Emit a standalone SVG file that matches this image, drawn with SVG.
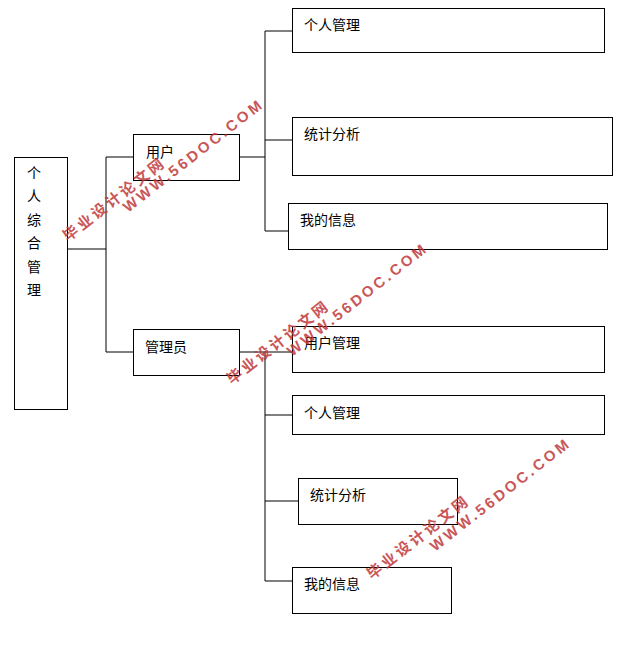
<svg xmlns="http://www.w3.org/2000/svg" width="629" height="650" viewBox="0 0 629 650">
<style>
.b{fill:#fff;stroke:#000;stroke-width:1}
.t{font-family:"Noto Sans CJK SC","Noto Sans",sans-serif;font-size:14px;fill:#000}
.c{stroke:#000;stroke-width:1;fill:none}
.w{font-family:"Liberation Sans","Noto Sans CJK SC",sans-serif;font-size:15px;font-weight:bold;fill:#c0393b;opacity:0.85;letter-spacing:3px}
</style>
<rect width="629" height="650" fill="#fff"/>
<g id="connectors">
<path class="c" d="M67,249H106M106,157V352M106,157H133M106,352H133"/>
<path class="c" d="M239,157H265M265,31V231M265,31H292M265,140H292M265,231H288"/>
<path class="c" d="M239,352H265M265,352V581M265,352H292M265,415H292M265,501H298M265,581H292"/>
</g>
<g id="root"><rect class="b" x="14.5" y="157.5" width="53" height="252"/>
<text class="t" x="27" y="178">个</text><text class="t" x="27" y="201">人</text><text class="t" x="27" y="225">综</text><text class="t" x="27" y="248">合</text><text class="t" x="27" y="272">管</text><text class="t" x="27" y="295">理</text></g>
<g id="user"><rect class="b" x="133.5" y="134.5" width="106" height="46"/><text class="t" x="146" y="157">用户</text></g>
<g id="admin"><rect class="b" x="133.5" y="329.5" width="106" height="46"/><text class="t" x="145" y="352">管理员</text></g>
<g id="u1"><rect class="b" x="292.5" y="8.5" width="312" height="44"/><text class="t" x="304" y="30">个人管理</text></g>
<g id="u2"><rect class="b" x="292.5" y="117.5" width="320" height="58"/><text class="t" x="304" y="139">统计分析</text></g>
<g id="u3"><rect class="b" x="288.5" y="203.5" width="319" height="46"/><text class="t" x="300" y="225">我的信息</text></g>
<g id="a1"><rect class="b" x="292.5" y="326.5" width="312" height="46"/><text class="t" x="304" y="348">用户管理</text></g>
<g id="a2"><rect class="b" x="292.5" y="395.5" width="312" height="39"/><text class="t" x="304" y="418">个人管理</text></g>
<g id="a3"><rect class="b" x="298.5" y="478.5" width="159" height="46"/><text class="t" x="310" y="500">统计分析</text></g>
<g id="a4"><rect class="b" x="292.5" y="567.5" width="159" height="46"/><text class="t" x="304" y="589">我的信息</text></g>
<g id="watermarks">
<text class="w" transform="translate(68,242) rotate(-38)">毕业设计论文网</text>
<text class="w" transform="translate(128,213) rotate(-38)">WWW.56DOC.COM</text>
<text class="w" transform="translate(232,385) rotate(-38)">毕业设计论文网</text>
<text class="w" transform="translate(292,357) rotate(-38)">WWW.56DOC.COM</text>
<text class="w" transform="translate(372,580) rotate(-38)">毕业设计论文网</text>
<text class="w" transform="translate(435,552) rotate(-38)">WWW.56DOC.COM</text>
</g>
</svg>
